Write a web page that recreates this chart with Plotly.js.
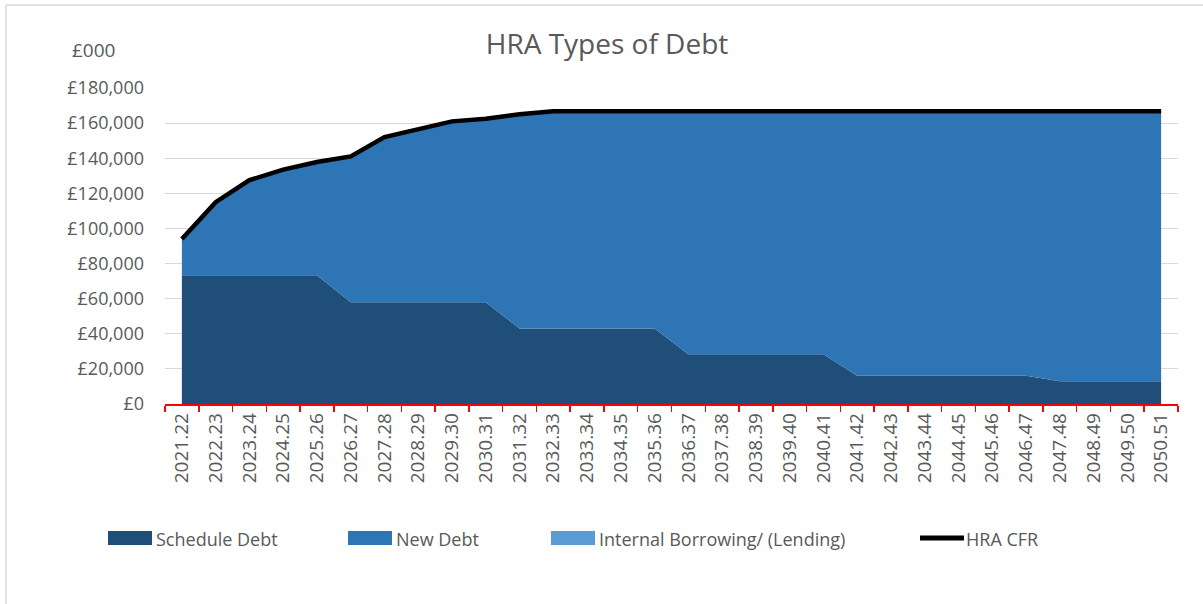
<!DOCTYPE html>
<html>
<head>
<meta charset="utf-8">
<script src="https://cdn.plot.ly/plotly-3.0.1.min.js"></script>
<style>html,body{margin:0;padding:0;background:#fff;}#chart{width:1203px;height:604px;}</style>
</head>
<body>
<div id="chart"></div>
<script>
const categories = ["2021.22","2022.23","2023.24","2024.25","2025.26","2026.27","2027.28","2028.29","2029.30","2030.31",
  "2031.32","2032.33","2033.34","2034.35","2035.36","2036.37","2037.38","2038.39","2039.40","2040.41",
  "2041.42","2042.43","2043.44","2044.45","2045.46","2046.47","2047.48","2048.49","2049.50","2050.51"];
const scheduleDebt = [73300,73300,73300,73300,73300,57900,57900,57900,57900,57900,
  43000,43000,43000,43000,43000,28300,28300,28300,28300,28300,
  16100,16100,16100,16100,16100,16100,12900,12900,12900,12900];
const newDebt = [20700,41700,54200,60200,64500,83100,94100,98600,103100,104600,
  122000,123700,123800,123800,123800,138500,138500,138500,138500,138500,
  150700,150700,150700,150700,150700,150700,153900,153900,153900,153900];
const internalBorrowing = [0,0,0,0,0,0,0,0,0,0,0,0,0,0,0,0,0,0,0,0,0,0,0,0,0,0,0,0,0,0];
const hraCFR = [94000,115000,127500,133500,137800,141000,152000,156500,161000,162500,
  165000,166700,166800,166800,166800,166800,166800,166800,166800,166800,
  166800,166800,166800,166800,166800,166800,166800,166800,166800,166800];
const yTickValues = [0,20000,40000,60000,80000,100000,120000,140000,160000,180000];
const yTickLabels = ["£0","£20,000","£40,000","£60,000","£80,000","£100,000","£120,000","£140,000","£160,000","£180,000"];
const seriesNames = ["Schedule Debt","New Debt","Internal Borrowing/ (Lending)","HRA CFR"];
const seriesColors = ["#1F4E79","#2E75B6","#5B9BD5","#000000"];

const FONT = "Open Sans, Noto Sans, sans-serif";
const GREY = "#595959";

const traces = [
  {x: categories, y: scheduleDebt, name: seriesNames[0], type: "scatter", mode: "none",
   stackgroup: "one", fillcolor: seriesColors[0], line: {width: 0}},
  {x: categories, y: newDebt, name: seriesNames[1], type: "scatter", mode: "none",
   stackgroup: "one", fillcolor: seriesColors[1], line: {width: 0}},
  {x: categories, y: internalBorrowing, name: seriesNames[2], type: "scatter", mode: "none",
   stackgroup: "one", fillcolor: seriesColors[2], line: {width: 0}},
  {x: categories, y: hraCFR, name: seriesNames[3], type: "scatter", mode: "lines",
   line: {color: seriesColors[3], width: 4.5}}
];

// pixel -> paper helpers (plot area: x 165..1178, y 88..404)
const px = v => (v - 165) / 1013;
const py = v => (404 - v) / 316;

// legend built from the series names and colours
const legendX = [108, 348, 551, 918];
const shapes = [
  {type: "line", xref: "paper", yref: "paper", x0: px(6), x1: px(6), y0: py(610), y1: py(5),
   line: {color: "#D9D9D9", width: 1.5}},
  {type: "line", xref: "paper", yref: "paper", x0: px(6), x1: px(1210), y0: py(5), y1: py(5),
   line: {color: "#D9D9D9", width: 1.5}}
];
const annotations = [
  {text: "£000", xref: "paper", yref: "paper", x: px(70), xanchor: "left", y: py(50), yanchor: "middle",
   showarrow: false, font: {family: FONT, size: 19, color: GREY}}
];
seriesNames.forEach((nm, i) => {
  const x0 = legendX[i];
  if (i < 3) {
    shapes.push({type: "rect", xref: "paper", yref: "paper", x0: px(x0), x1: px(x0 + 44),
      y0: py(545), y1: py(531), fillcolor: seriesColors[i], line: {width: 0}});
  } else {
    shapes.push({type: "line", xref: "paper", yref: "paper", x0: px(x0 + 2), x1: px(x0 + 46),
      y0: py(538), y1: py(538), line: {color: seriesColors[i], width: 5}});
  }
  annotations.push({text: nm, xref: "paper", yref: "paper", x: px(x0 + 46), xanchor: "left",
    y: py(539), yanchor: "middle", showarrow: false, font: {family: FONT, size: 18, color: GREY}});
});

const layout = {
  width: 1203, height: 604,
  margin: {l: 165, r: 25, t: 88, b: 200},
  paper_bgcolor: "#ffffff", plot_bgcolor: "#ffffff",
  font: {family: FONT, color: GREY, size: 17},
  title: {text: "HRA Types of Debt", x: 607 / 1203, xanchor: "center", y: 1 - 44 / 604, yanchor: "middle",
    font: {family: FONT, size: 28, color: GREY}},
  showlegend: false,
  xaxis: {type: "category", range: [-0.5, 29.5], tickangle: -90, tickson: "boundaries",
    ticks: "outside", ticklen: 6, tickcolor: "#FF0000", tickwidth: 1.5,
    showline: true, linecolor: "#FF0000", linewidth: 1.5, showgrid: false, zeroline: false,
    tickfont: {family: FONT, size: 19, color: GREY}, fixedrange: true},
  yaxis: {range: [0, 180000], tickmode: "array", tickvals: yTickValues, ticktext: yTickLabels,
    showgrid: true, gridcolor: "#D9D9D9", gridwidth: 1.2, zeroline: false, showline: false,
    ticks: "", ticklabelstandoff: 20,
    tickfont: {family: FONT, size: 18, color: GREY}, fixedrange: true},
  annotations: annotations,
  shapes: shapes
};

Plotly.newPlot("chart", traces, layout, {displayModeBar: false, staticPlot: true});
</script>
</body>
</html>
